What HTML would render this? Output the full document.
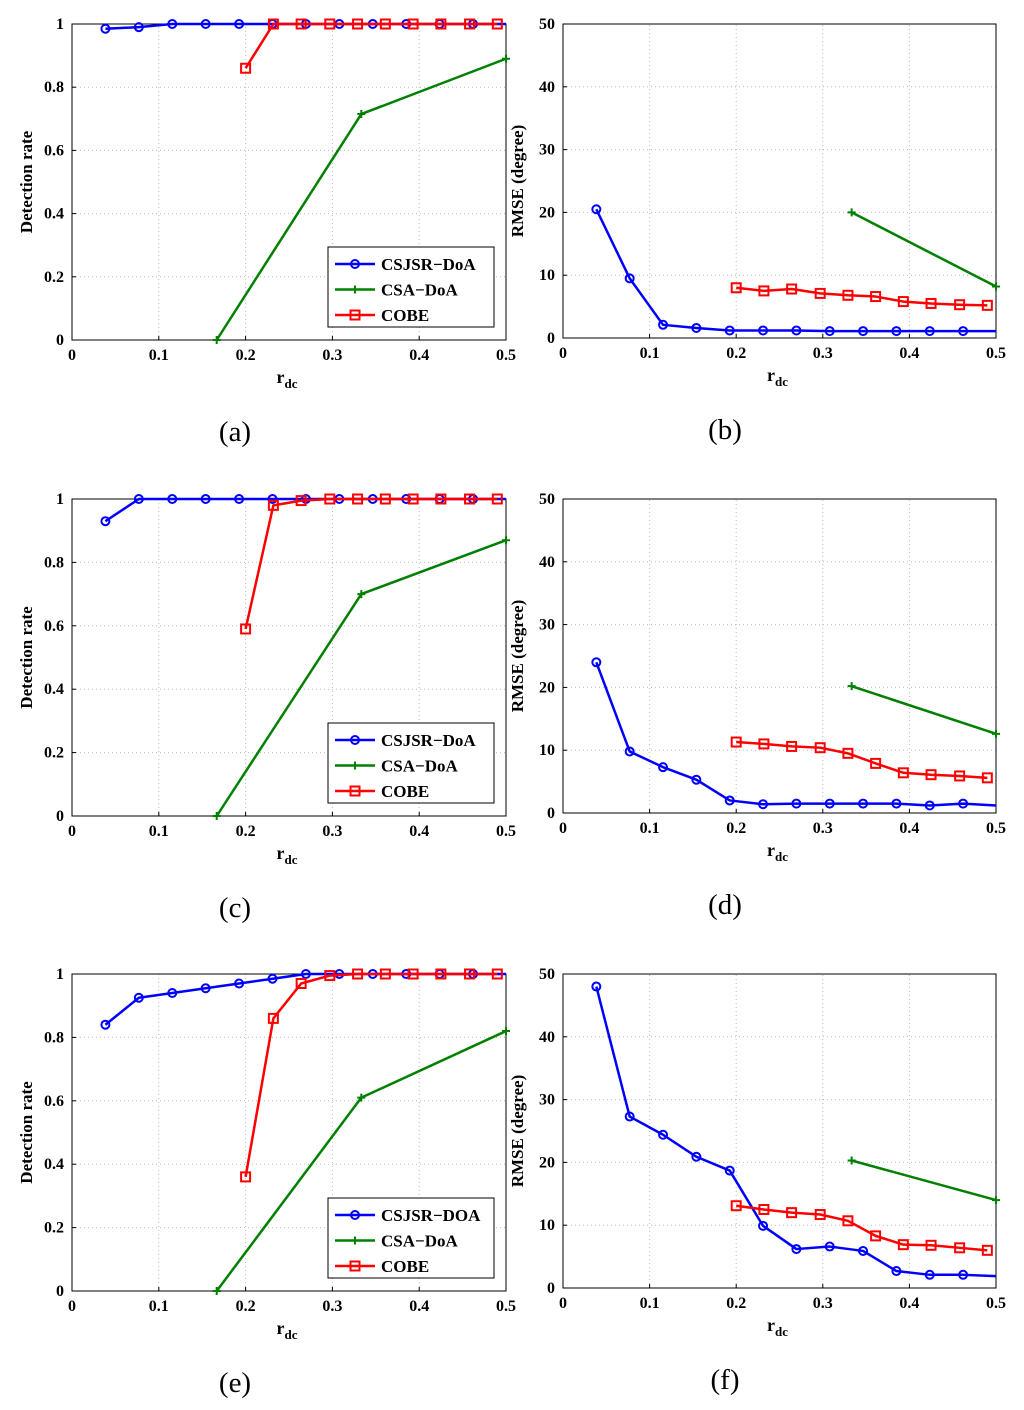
<!DOCTYPE html>
<html><head><meta charset="utf-8"><style>
html,body{margin:0;padding:0;background:#fff;}
svg{display:block;}
text{font-family:"Liberation Serif",serif;font-weight:bold;}
</style></head><body>
<svg id="fig" width="1024" height="1410" viewBox="0 0 1024 1410" xmlns="http://www.w3.org/2000/svg"></svg>
<script>
// x positions (r_dc)
const blueX = [0.0385,0.077,0.1155,0.154,0.1925,0.231,0.2695,0.308,0.3465,0.385,0.4235,0.462,0.5];
const redX = [0.2,0.232,0.264,0.297,0.329,0.361,0.393,0.425,0.458,0.49];
const greenX = [0.1667,0.3333,0.5];
const greenRmseX = [0.3333,0.5];
// panel (a)
const aBlue = [0.985,0.99,1,1,1,1,1,1,1,1,1,1,1];
const aGreen = [0,0.715,0.89];
const aRed = [0.86,1,1,1,1,1,1,1,1,1];
// panel (b)
const bBlue = [20.5,9.5,2.1,1.6,1.2,1.2,1.2,1.1,1.1,1.1,1.1,1.1,1.1];
const bGreen = [20,8.2];
const bRed = [8,7.5,7.8,7.1,6.8,6.6,5.8,5.5,5.3,5.2];
// panel (c)
const cBlue = [0.93,1,1,1,1,1,1,1,1,1,1,1,1];
const cGreen = [0,0.70,0.87];
const cRed = [0.59,0.98,0.995,1,1,1,1,1,1,1];
// panel (d)
const dBlue = [24,9.8,7.3,5.3,2.0,1.4,1.5,1.5,1.5,1.5,1.2,1.5,1.2];
const dGreen = [20.2,12.6];
const dRed = [11.3,11,10.6,10.4,9.5,7.9,6.4,6.1,5.9,5.6];
// panel (e)
const eBlue = [0.84,0.925,0.94,0.955,0.97,0.985,1,1,1,1,1,1,1];
const eGreen = [0,0.61,0.82];
const eRed = [0.36,0.86,0.97,0.995,1,1,1,1,1,1];
// panel (f)
const fBlue = [48,27.3,24.4,20.9,18.7,9.9,6.2,6.6,5.9,2.7,2.1,2.1,1.9];
const fGreen = [20.3,14];
const fRed = [13.1,12.5,12,11.7,10.7,8.3,6.9,6.8,6.4,6];
// ticks
const xTicks = [0,0.1,0.2,0.3,0.4,0.5];
const xTickLabels = ["0","0.1","0.2","0.3","0.4","0.5"];
const detTicks = [0,0.2,0.4,0.6,0.8,1];
const detTickLabels = ["0","0.2","0.4","0.6","0.8","1"];
const rmseTicks = [0,10,20,30,40,50];
const rmseTickLabels = ["0","10","20","30","40","50"];
const legendLabels1 = ["CSJSR\u2212DoA","CSA\u2212DoA","COBE"];
const legendLabels3 = ["CSJSR\u2212DOA","CSA\u2212DoA","COBE"];

const NS="http://www.w3.org/2000/svg";
const svg=document.getElementById('fig');
function mk(tag,attrs,parent){const e=document.createElementNS(NS,tag);for(const k in attrs)e.setAttribute(k,attrs[k]);(parent||svg).appendChild(e);return e;}

const panels=[
 {id:'a',x0:72,x1:506,y0:340,y1:24,ymax:1,yt:detTicks,ytl:detTickLabels,ylab:'Detection rate',blue:aBlue,green:aGreen,gx:greenX,red:aRed,leg:legendLabels1,cap:'(a)',cx:235},
 {id:'b',x0:563,x1:996,y0:338,y1:24,ymax:50,yt:rmseTicks,ytl:rmseTickLabels,ylab:'RMSE (degree)',blue:bBlue,green:bGreen,gx:greenRmseX,red:bRed,cap:'(b)',cx:725},
 {id:'c',x0:72,x1:506,y0:816,y1:499,ymax:1,yt:detTicks,ytl:detTickLabels,ylab:'Detection rate',blue:cBlue,green:cGreen,gx:greenX,red:cRed,leg:legendLabels1,cap:'(c)',cx:235},
 {id:'d',x0:563,x1:996,y0:813,y1:499,ymax:50,yt:rmseTicks,ytl:rmseTickLabels,ylab:'RMSE (degree)',blue:dBlue,green:dGreen,gx:greenRmseX,red:dRed,cap:'(d)',cx:725},
 {id:'e',x0:72,x1:506,y0:1291,y1:974,ymax:1,yt:detTicks,ytl:detTickLabels,ylab:'Detection rate',blue:eBlue,green:eGreen,gx:greenX,red:eRed,leg:legendLabels3,cap:'(e)',cx:235},
 {id:'f',x0:563,x1:996,y0:1288,y1:974,ymax:50,yt:rmseTicks,ytl:rmseTickLabels,ylab:'RMSE (degree)',blue:fBlue,green:fGreen,gx:greenRmseX,red:fRed,cap:'(f)',cx:725}
];

function circ(g,x,y,c){const e=mk('circle',{cx:x,cy:y,r:4,fill:'none',stroke:c,'stroke-width':2},g);}
function sq(g,x,y,c){const e=mk('rect',{x:x-4.5,y:y-4.5,width:9,height:9,fill:'none',stroke:c,'stroke-width':2},g);}
function plus(g,x,y,c){const e=mk('path',{d:`M${x-4},${y}H${x+4}M${x},${y-4}V${y+4}`,stroke:c,'stroke-width':2},g);}

panels.forEach(p=>{
  const g=mk('g',{});
  
  
  const X=v=>p.x0+(p.x1-p.x0)*v/0.5;
  const Y=v=>p.y0+(p.y1-p.y0)*v/p.ymax;
  xTicks.forEach((t,i)=>{
    if(i>0&&i<xTicks.length-1){const l=mk('line',{x1:X(t),x2:X(t),y1:p.y0,y2:p.y1,stroke:'#bbb','stroke-width':1,'stroke-dasharray':'1,3'},g);}
    const tk=mk('line',{x1:X(t),x2:X(t),y1:p.y0,y2:p.y0-4,stroke:'#000','stroke-width':1},g);
    
    const tx=mk('text',{x:X(t),y:p.y0+20,'font-size':16,'text-anchor':'middle'},g);tx.textContent=xTickLabels[i];
    
  });
  p.yt.forEach((t,i)=>{
    if(i>0&&i<p.yt.length-1){const l=mk('line',{x1:p.x0,x2:p.x1,y1:Y(t),y2:Y(t),stroke:'#bbb','stroke-width':1,'stroke-dasharray':'1,3'},g);}
    const tk=mk('line',{x1:p.x0,x2:p.x0+4,y1:Y(t),y2:Y(t),stroke:'#000','stroke-width':1},g);
    
    const tx=mk('text',{x:p.x0-8,y:Y(t)+5,'font-size':16,'text-anchor':'end'},g);tx.textContent=p.ytl[i];
    
  });
  const box=mk('rect',{x:p.x0,y:p.y1,width:p.x1-p.x0,height:p.y0-p.y1,fill:'none',stroke:'#000','stroke-width':1},g);
  
  const xl=mk('text',{x:(p.x0+p.x1)/2-2,y:p.y0+43,'font-size':18,'text-anchor':'middle'},g);
  xl.innerHTML='r<tspan font-size="13" dy="5">dc</tspan>';
  
  const yx=p.x0-40, yy=(p.y0+p.y1)/2;
  const yl=mk('text',{x:yx,y:yy,'font-size':17,'text-anchor':'middle',transform:`rotate(-90 ${yx} ${yy})`},g);
  yl.textContent=p.ylab;
  const cap=mk('text',{x:p.cx,y:p.y0+101,'font-size':29,'text-anchor':'middle',style:'font-weight:normal'},g);
  cap.textContent=p.cap;
  const series=[
    {xs:p.gx,ys:p.green,c:'#008000',m:plus,n:'csa-doa'},
    {xs:redX,ys:p.red,c:'#ff0000',m:sq,n:'cobe'},
    {xs:blueX,ys:p.blue,c:'#0000ff',m:circ,n:'csjsr-doa'}
  ];
  [series[2],series[0],series[1]].forEach(s=>{
    const sg=mk('g',{},g);
    
    const pts=s.xs.map((x,i)=>X(x)+','+Y(s.ys[i])).join(' ');
    const pl=mk('polyline',{points:pts,fill:'none',stroke:s.c,'stroke-width':2.5,'stroke-linejoin':'round'},sg);
    
    s.xs.forEach((x,i)=>{ if(s.n==='csjsr-doa'&&i===s.xs.length-1) return; s.m(sg,X(x),Y(s.ys[i]),s.c);});
  });
  if(p.leg){
    const lg=mk('g',{},g);
    const lx=328,ly=p.y0-93;
    mk('rect',{x:lx,y:ly,width:166,height:80,fill:'#fff',stroke:'#000','stroke-width':1},lg);
    const cols=['#0000ff','#008000','#ff0000'],ms=[circ,plus,sq];
    p.leg.forEach((t,i)=>{
      const yy=ly+17+i*25.5;
      const e=mk('g',{},lg);
      mk('line',{x1:lx+7,x2:lx+47,y1:yy,y2:yy,stroke:cols[i],'stroke-width':2.5},e);
      ms[i](e,lx+27,yy,cols[i]);
      const tx=mk('text',{x:lx+53,y:yy+6,'font-size':17},e);tx.textContent=t;
    });
  }
});
</script>
</body></html>
